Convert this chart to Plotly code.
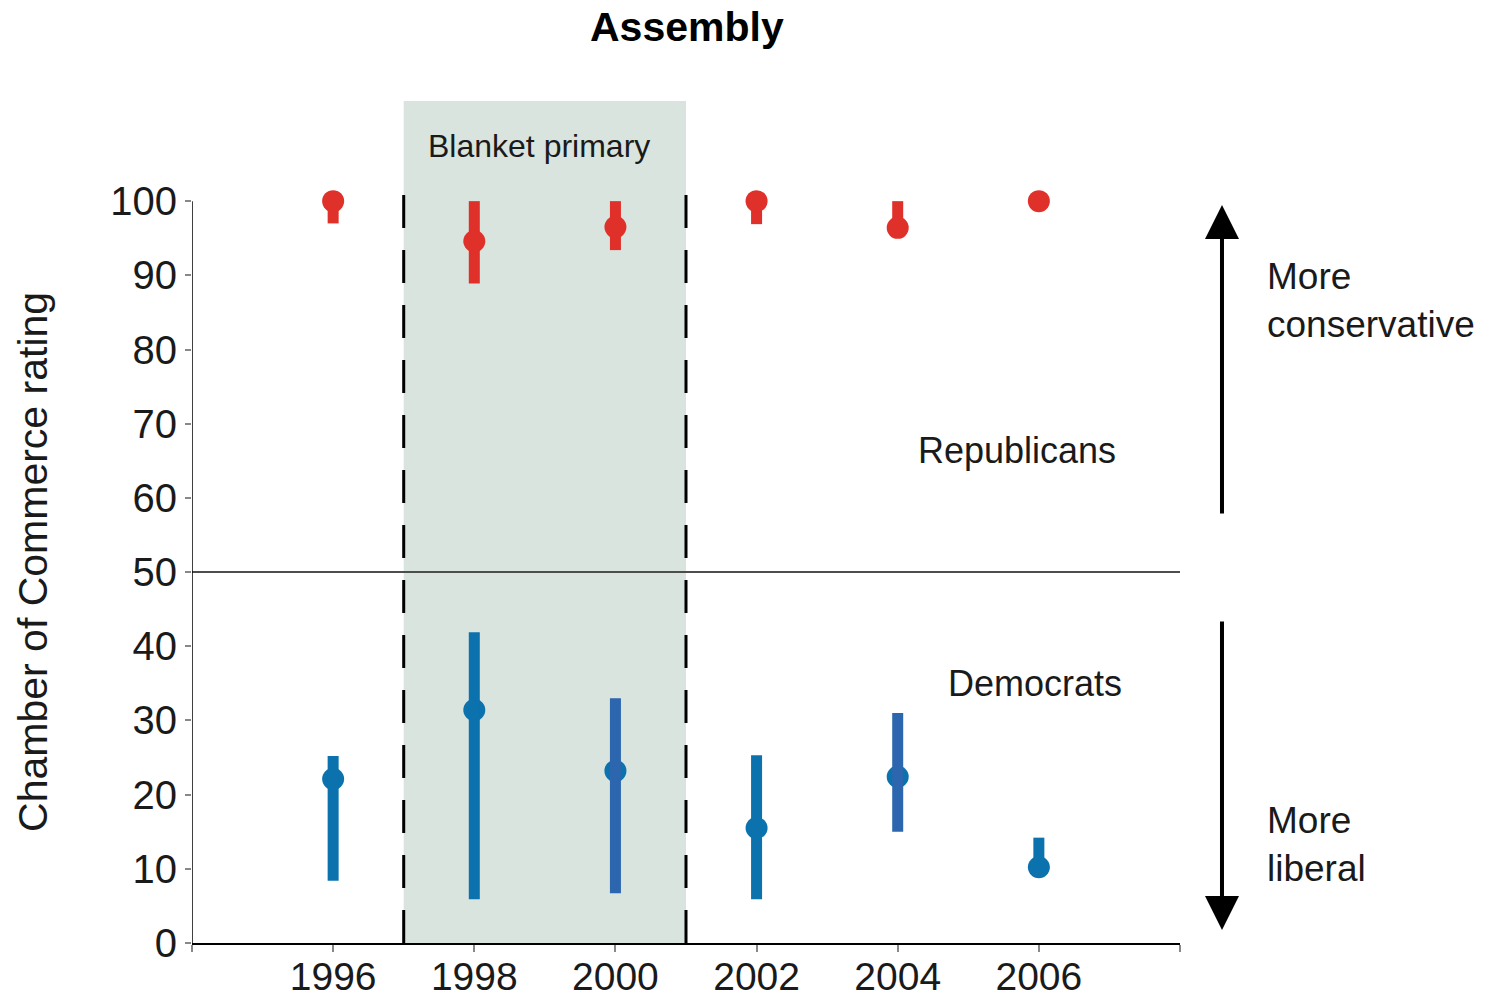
import plotly.graph_objects as go

# Chamber of Commerce ratings, California Assembly, by election year
years = [1996, 1998, 2000, 2002, 2004, 2006]

rep_mid = [100.0, 94.6, 96.5, 100.0, 96.4, 100.0]
rep_low = [97.0, 88.9, 93.4, 96.9, 96.4, 100.0]
rep_high = [100.0, 100.0, 100.0, 100.0, 100.0, 100.0]

dem_mid = [22.1, 31.4, 23.2, 15.5, 22.4, 10.2]
dem_low = [8.4, 5.9, 6.7, 5.9, 15.0, 10.2]
dem_high = [25.2, 41.9, 33.0, 25.3, 31.0, 14.2]

RED = "#e0302a"
BLUE = "#0b72ad"
BLUE_ALT = "#2b66ae"
dem_bar_colors = [BLUE, BLUE, BLUE_ALT, BLUE, BLUE_ALT, BLUE]

x_ticks = [1994, 1996, 1998, 2000, 2002, 2004, 2006, 2008]
x_ticktext = ["", "1996", "1998", "2000", "2002", "2004", "2006", ""]
y_ticks = [0, 10, 20, 30, 40, 50, 60, 70, 80, 90, 100]

blanket_start, blanket_end = 1997, 2001

FONT = "Liberation Sans, Arial, Helvetica, sans-serif"
TXT = "#1a1a1a"


def segments(xs, lo, hi):
    sx, sy = [], []
    for x, a, b in zip(xs, lo, hi):
        sx += [x, x, None]
        sy += [a, b, None]
    return sx, sy


fig = go.Figure()

# Republican ranges, then points on top
rx, ry = segments(years, rep_low, rep_high)
fig.add_trace(go.Scatter(x=rx, y=ry, mode="lines",
                         line=dict(color=RED, width=11), hoverinfo="skip"))
fig.add_trace(go.Scatter(x=years, y=rep_mid, mode="markers",
                         marker=dict(color=RED, size=22), name="Republicans"))

# Democrat points, then ranges on top
fig.add_trace(go.Scatter(x=years, y=dem_mid, mode="markers",
                         marker=dict(color=BLUE, size=22), name="Democrats"))
for col in dict.fromkeys(dem_bar_colors):
    idx = [i for i, c in enumerate(dem_bar_colors) if c == col]
    dx, dy = segments([years[i] for i in idx],
                      [dem_low[i] for i in idx],
                      [dem_high[i] for i in idx])
    fig.add_trace(go.Scatter(x=dx, y=dy, mode="lines",
                             line=dict(color=col, width=11), hoverinfo="skip"))

shapes = [
    # blanket primary period
    dict(type="rect", xref="x", yref="paper", x0=blanket_start, x1=blanket_end,
         y0=0, y1=1, fillcolor="#d9e4de", line=dict(width=0), layer="below"),
    dict(type="line", xref="x", yref="y", x0=blanket_start, x1=blanket_start,
         y0=0, y1=102, line=dict(color="black", width=3, dash="33px,22px"),
         layer="above"),
    dict(type="line", xref="x", yref="y", x0=blanket_end, x1=blanket_end,
         y0=0, y1=102, line=dict(color="black", width=3, dash="33px,22px"),
         layer="above"),
    # midpoint line
    dict(type="line", xref="x", yref="y", x0=1994, x1=2008, y0=50, y1=50,
         line=dict(color="#4d4d4d", width=2), layer="below"),
    # y axis spine from 0 to 100
    dict(type="line", xref="x", yref="y", x0=1994, x1=1994, y0=0, y1=100,
         line=dict(color="black", width=1.5)),
]

annotations = [
    dict(text="<b>Assembly</b>", xref="paper", yref="paper", x=0.501, y=1.088,
         showarrow=False, xanchor="center", yanchor="middle",
         font=dict(size=41, color="black", family=FONT)),
    dict(text="Chamber of Commerce rating", xref="paper", yref="paper",
         x=-0.161, y=0.4525, textangle=-90, showarrow=False,
         xanchor="center", yanchor="middle",
         font=dict(size=41, color=TXT, family=FONT)),
    dict(text="Blanket primary", xref="x", yref="y", x=1998.92, y=107.5,
         showarrow=False, xanchor="center", yanchor="middle",
         font=dict(size=32, color=TXT, family=FONT)),
    dict(text="Republicans", xref="x", yref="y", x=2005.69, y=66.4,
         showarrow=False, xanchor="center", yanchor="middle",
         font=dict(size=36, color=TXT, family=FONT)),
    dict(text="Democrats", xref="x", yref="y", x=2005.95, y=35.0,
         showarrow=False, xanchor="center", yanchor="middle",
         font=dict(size=36, color=TXT, family=FONT)),
    dict(text="More<br>conservative", xref="paper", yref="paper",
         x=1.086, y=0.7625, showarrow=False, xanchor="left", yanchor="middle",
         align="left", font=dict(size=37, color=TXT, family=FONT)),
    dict(text="More<br>liberal", xref="paper", yref="paper",
         x=1.086, y=0.1164, showarrow=False, xanchor="left", yanchor="middle",
         align="left", font=dict(size=37, color=TXT, family=FONT)),
    # direction arrows
    dict(text="", xref="paper", yref="paper", x=1.0425, y=0.8765,
         ax=0, ay=310, showarrow=True, arrowhead=2, arrowsize=1.7,
         arrowwidth=4, arrowcolor="black"),
    dict(text="", xref="paper", yref="paper", x=1.0425, y=0.0154,
         ax=0, ay=-310, showarrow=True, arrowhead=2, arrowsize=1.7,
         arrowwidth=4, arrowcolor="black"),
]

fig.update_layout(
    width=1494, height=998,
    margin=dict(l=192, r=314, t=101, b=55),
    paper_bgcolor="white", plot_bgcolor="white",
    showlegend=False,
    shapes=shapes, annotations=annotations,
    font=dict(family=FONT, color=TXT),
    xaxis=dict(range=[1994, 2008], tickvals=x_ticks, ticktext=x_ticktext,
               automargin=False, ticklabelstandoff=-9,
               showgrid=False, zeroline=False, showline=True,
               linecolor="black", linewidth=1.5,
               ticks="outside", ticklen=7, tickwidth=1.5, tickcolor="#888888",
               tickfont=dict(size=39, color=TXT, family=FONT)),
    yaxis=dict(range=[0, 113.5], tickvals=y_ticks, automargin=False,
               showgrid=False, zeroline=False, showline=False,
               ticks="outside", ticklen=6, tickwidth=1.5, tickcolor="#888888",
               tickfont=dict(size=40, color=TXT, family=FONT)),
)

fig.write_html("out.html")
